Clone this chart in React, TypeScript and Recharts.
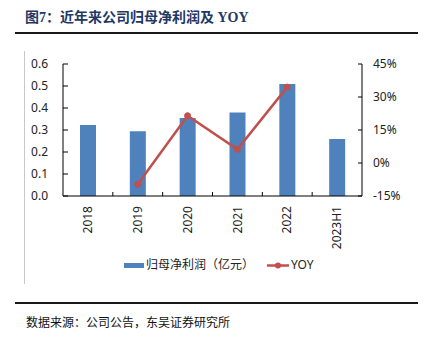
import {
  Bar,
  ComposedChart,
  Legend,
  Line,
  XAxis,
  YAxis,
} from 'recharts';

// 归母净利润（亿元）与同比
const years = ['2018', '2019', '2020', '2021', '2022', '2023H1'];
const netProfit = [0.323, 0.294, 0.355, 0.379, 0.509, 0.259];
const yoy: (number | null)[] = [null, -9.7, 21.5, 6.2, 34.5, null];

const leftTicks = [0, 0.1, 0.2, 0.3, 0.4, 0.5, 0.6];
const rightTicks = [-15, 0, 15, 30, 45];

const BAR = '#4F81BD';
const LINE = '#C0504D';
const FONT = '"Noto Sans", "Noto Sans CJK SC", sans-serif';
const SERIF = '"Liberation Serif", "Noto Sans CJK SC", serif';

const data = years.map((label, i) => ({
  label,
  profit: netProfit[i],
  yoy: yoy[i],
}));

function YearTick(props: any) {
  const { x, y, payload } = props;
  const half = payload?.offset ?? 25;
  const axisY = y - 10;
  const last = payload?.index === years.length - 1;
  return (
    <g>
      {!last && (
        <line
          x1={x + half}
          x2={x + half}
          y1={axisY - 4}
          y2={axisY}
          stroke="#000"
        />
      )}
      <text
        x={x}
        y={y}
        dy="0.35em"
        transform={`rotate(-90, ${x}, ${y})`}
        textAnchor="end"
        fontSize={12}
        fontFamily={FONT}
        fill="#222"
      >
        {payload.value}
      </text>
    </g>
  );
}

function LegendBox() {
  return (
    <div style={{ position: 'relative', width: 425, height: 16, fontFamily: FONT, fontSize: 12, color: '#222' }}>
      <div style={{ position: 'absolute', left: 124, top: 6, width: 20, height: 5, background: BAR }} />
      <div style={{ position: 'absolute', left: 146, top: 0, lineHeight: '16px', whiteSpace: 'nowrap' }}>
        归母净利润（亿元）
      </div>
      <svg style={{ position: 'absolute', left: 266, top: 0 }} width={24} height={16}>
        <line x1={1} x2={23} y1={8.5} y2={8.5} stroke={LINE} strokeWidth={2.5} />
        <circle cx={12} cy={8.5} r={3} fill={LINE} />
      </svg>
      <div style={{ position: 'absolute', left: 291, top: 0, lineHeight: '16px' }}>YOY</div>
    </div>
  );
}

export default function App() {
  return (
    <div style={{ position: 'absolute', left: 0, top: 0, width: 425, height: 339, background: '#fff' }}>
      <div
        style={{
          position: 'absolute',
          left: 25,
          top: 9,
          fontFamily: SERIF,
          fontWeight: 700,
          fontSize: 14,
          lineHeight: '18px',
          color: '#1F3864',
          whiteSpace: 'nowrap',
        }}
      >
        图7：近年来公司归母净利润及 YOY
      </div>
      <div style={{ position: 'absolute', left: 15, top: 32, width: 403, height: 2, background: '#1a1a1a' }} />
      <div style={{ position: 'absolute', left: 24, top: 51, width: 1, height: 233, background: '#c8c8c8' }} />

      <ComposedChart
        width={425}
        height={339}
        data={data}
        margin={{ top: 64, right: 13, bottom: 93, left: 23 }}
        barCategoryGap={17}
      >
        <XAxis
          dataKey="label"
          xAxisId="x"
          height={50}
          axisLine={{ stroke: '#000' }}
          tickLine={false}
          tickSize={0}
          tickMargin={10}
          interval={0}
          tick={<YearTick />}
        />
        <YAxis
          yAxisId="left"
          orientation="left"
          width={40}
          domain={[0, 0.6]}
          ticks={leftTicks}
          interval={0}
          tickFormatter={(v: number) => v.toFixed(1)}
          axisLine={{ stroke: '#000' }}
          tickLine={{ stroke: '#000' }}
          tickSize={-5}
          tickMargin={20}
          tick={{ fontSize: 12, fill: '#222', fontFamily: FONT }}
        />
        <YAxis
          yAxisId="right"
          orientation="right"
          width={50}
          domain={[-15, 45]}
          ticks={rightTicks}
          interval={0}
          tickFormatter={(v: number) => `${v}%`}
          axisLine={{ stroke: '#000' }}
          tickLine={{ stroke: '#000' }}
          tickSize={-4}
          tickMargin={15}
          tick={{ fontSize: 12, fill: '#222', fontFamily: FONT }}
        />
        <Legend
          verticalAlign="middle"
          content={<LegendBox />}
          wrapperStyle={{ top: 257, left: 0, width: 425, height: 16 }}
        />
        <Bar
          xAxisId="x"
          yAxisId="left"
          dataKey="profit"
          fill={BAR}
          barSize={16}
          isAnimationActive={false}
        />
        <Line
          xAxisId="x"
          yAxisId="right"
          dataKey="yoy"
          stroke={LINE}
          strokeWidth={2.5}
          dot={{ r: 3, fill: LINE, stroke: LINE, strokeWidth: 1 }}
          activeDot={false}
          connectNulls={false}
          isAnimationActive={false}
        />
      </ComposedChart>

      <div style={{ position: 'absolute', left: 15, top: 302, width: 403, height: 2, background: '#1a1a1a' }} />
      <div
        style={{
          position: 'absolute',
          left: 26,
          top: 316,
          fontFamily: SERIF,
          fontSize: 12,
          lineHeight: '15px',
          color: '#111',
          whiteSpace: 'nowrap',
        }}
      >
        数据来源：公司公告，东吴证券研究所
      </div>
    </div>
  );
}
